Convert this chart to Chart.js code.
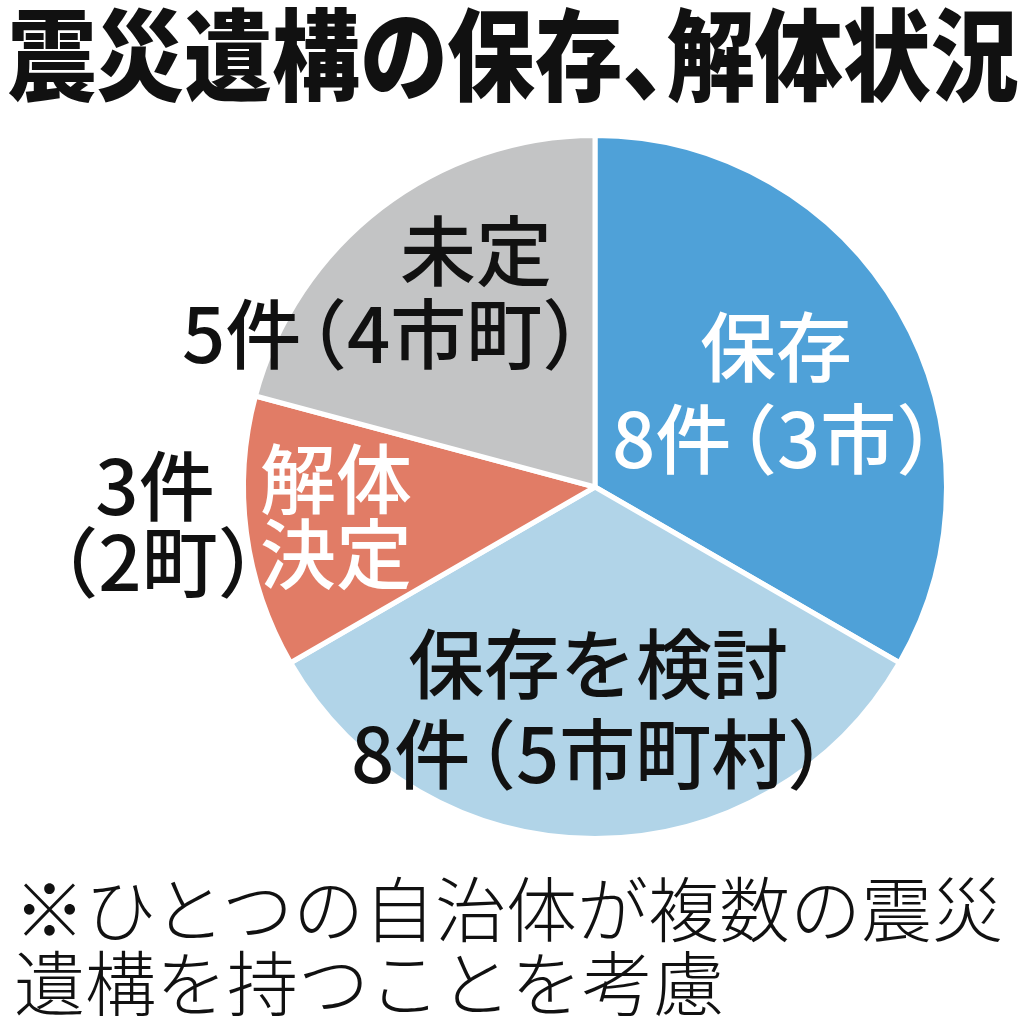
<!DOCTYPE html>
<html lang="ja">
<head>
<meta charset="utf-8">
<script src="https://cdn.jsdelivr.net/npm/chart.js@4.4.1/dist/chart.umd.min.js"></script>
<style>
  body { margin: 0; background: #fff; width: 1024px; height: 1024px; overflow: hidden; position: relative; font-family: "Noto Sans CJK JP", sans-serif; }
  #titulo { position: absolute; left: 8px; top: 0px; font-size: 100px; font-weight: 900; line-height: 1; white-space: nowrap; transform: scaleX(0.88); transform-origin: left top; color: #111; font-feature-settings: "palt"; }
  #nota { position: absolute; left: 14px; top: 868px; font-size: 71px; font-weight: 300; line-height: 74px; color: #111; white-space: nowrap; }
  #grafico { position: absolute; left: 0; top: 0; }
</style>
</head>
<body>
<canvas id="grafico" width="1024" height="1024"></canvas>
<div id="titulo">震災遺構の保存、解体状況</div>
<div id="nota">※ひとつの自治体が複数の震災<br>遺構を持つことを考慮</div>
<script>
// --- DADOS ---
const categorias = ["保存", "保存を検討", "解体決定", "未定"];
const valores = [8, 8, 3, 5];
const municipios = ["3市", "5市町村", "2町", "4市町"];
const cores = ["#4fa1d8", "#b1d4e8", "#e17c66", "#c3c4c5"];

// --- ROTULOS ---
// dx/dy relativos ao centro da pizza
const rotulos = [
  { linhas: ["保存", valores[0] + "件（" + municipios[0] + "）"], dx: [181, 180], dy: [-140, -48], cor: "#fff" },
  { linhas: ["保存を検討", valores[1] + "件（" + municipios[1] + "）"], dx: [3, -5], dy: [177, 267], cor: "#111" },
  { linhas: ["解体", "決定"], dx: [-259, -259], dy: [-8, 67], cor: "#fff" },
  { linhas: ["未定", valores[3] + "件（" + municipios[3] + "）"], dx: [-119, -212], dy: [-236, -153], cor: "#111" },
  // fora da fatia "解体決定"
  { linhas: [valores[2] + "件", "（" + municipios[2] + "）"], dx: [-440, -437], dy: [-1, 75], cor: "#111", largo: true }
];

// desenha uma linha com o parentese de abertura "apertado" (como palt)
function desenharLinha(ctx, txt, x, y, tam, largo) {
  if (largo) {
    ctx.textAlign = 'center';
    ctx.fillText(txt, x, y);
    return;
  }
  let pedacos = [], total = 0;
  for (const ch of txt) {
    let antes = 0;
    if (ch === '（' && total > 0) antes = -0.4 * tam;
    const w = ctx.measureText(ch).width;
    pedacos.push({ ch, x: total + antes });
    total += antes + w;
  }
  if (txt.endsWith('）')) total -= 0.45 * tam;
  ctx.textAlign = 'left';
  const x0 = x - total / 2;
  pedacos.forEach(p => ctx.fillText(p.ch, x0 + p.x, y));
}

const pluginRotulos = {
  id: 'rotulos',
  afterDatasetsDraw(chart) {
    const ctx = chart.ctx;
    const arco = chart.getDatasetMeta(0).data[0];
    const cx = arco.x, cy = arco.y;
    const tam = 76;
    ctx.save();
    ctx.font = '500 ' + tam + 'px "Noto Sans CJK JP"';
    ctx.textBaseline = 'middle';
    rotulos.forEach(r => {
      ctx.fillStyle = r.cor;
      r.linhas.forEach((l, j) => desenharLinha(ctx, l, cx + r.dx[j], cy + r.dy[j], tam, r.largo));
    });
    ctx.restore();
  }
};

new Chart(document.getElementById('grafico'), {
  type: 'pie',
  data: {
    labels: categorias,
    datasets: [{ data: valores, backgroundColor: cores, borderColor: '#fff', borderWidth: 5, hoverOffset: 0 }]
  },
  options: {
    responsive: false,
    animation: false,
    layout: { padding: { left: 240, right: 74, top: 133, bottom: 183 } },
    plugins: { legend: { display: false }, tooltip: { enabled: false } }
  },
  plugins: [pluginRotulos]
});
</script>
</body>
</html>
